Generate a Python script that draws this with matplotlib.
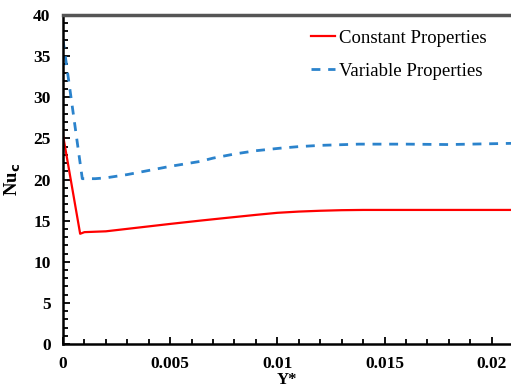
import numpy as np
import matplotlib.pyplot as plt
from matplotlib.ticker import MultipleLocator

# Nu_c along Y* for the two property models
y_const = [0.0, 0.0008, 0.001, 0.002, 0.003, 0.004, 0.005, 0.0064, 0.0075, 0.009,
           0.010, 0.011, 0.012, 0.013, 0.014, 0.016, 0.018, 0.021]
nu_const = [25.4, 13.4, 13.6, 13.7, 14.0, 14.3, 14.6, 15.0, 15.3, 15.7,
            15.95, 16.1, 16.2, 16.27, 16.3, 16.3, 16.3, 16.3]

y_var = [0.0, 0.0009, 0.0015, 0.002, 0.003, 0.004, 0.005, 0.0064, 0.007, 0.008,
         0.009, 0.0101, 0.011, 0.012, 0.0138, 0.016, 0.018, 0.021]
nu_var = [37.0, 20.1, 20.1, 20.2, 20.6, 21.1, 21.6, 22.2, 22.6, 23.1,
          23.5, 23.8, 24.0, 24.15, 24.3, 24.3, 24.25, 24.4]

xticks = [0, 0.005, 0.01, 0.015, 0.02]
xticklabels = ['0', '0.005', '0.01', '0.015', '0.02']

plt.rcParams['font.family'] = ['Liberation Serif', 'DejaVu Serif']

fig = plt.figure(figsize=(5.11, 3.89), dpi=100)
ax = fig.add_axes([0.1233, 0.1157, 0.8767, 0.8457])

ax.plot(y_const, nu_const, color='#ff0000', lw=1.6, label='Constant Properties')
ax.plot(y_var, nu_var, color='#2b83cc', lw=2.0, dashes=(3.2, 2.8), label='Variable Properties')

ax.set_xlim(0, 0.0209)
ax.set_ylim(0, 40)
ax.set_xticks(xticks)
ax.set_xticklabels(xticklabels)
ax.xaxis.set_minor_locator(MultipleLocator(0.001))
ax.yaxis.set_major_locator(MultipleLocator(5))
ax.yaxis.set_minor_locator(MultipleLocator(1))

ax.tick_params(which='both', direction='in', width=1.3, colors='black')
ax.tick_params(which='major', length=5, labelsize=12.5, pad=9)
ax.tick_params(which='minor', length=3.5)
for lbl in ax.get_xticklabels() + ax.get_yticklabels():
    lbl.set_fontweight('bold')

ax.spines['left'].set_linewidth(1.8)
ax.spines['bottom'].set_linewidth(1.8)
ax.spines['top'].set_linewidth(2.5)
ax.spines['top'].set_color('#555555')
ax.spines['right'].set_visible(False)

ax.set_ylabel('Nu$_\\mathbf{c}$', fontsize=13.5, fontweight='bold', labelpad=7)
ax.set_xlabel('Y*', fontsize=12, fontweight='bold', labelpad=0)

ax.legend(loc='upper right', frameon=False, fontsize=13.5, handlelength=1.3,
          handletextpad=0.2, labelspacing=0.85, borderpad=0.1,
          bbox_to_anchor=(0.97, 0.99))

fig.savefig('out.png', dpi=100)
